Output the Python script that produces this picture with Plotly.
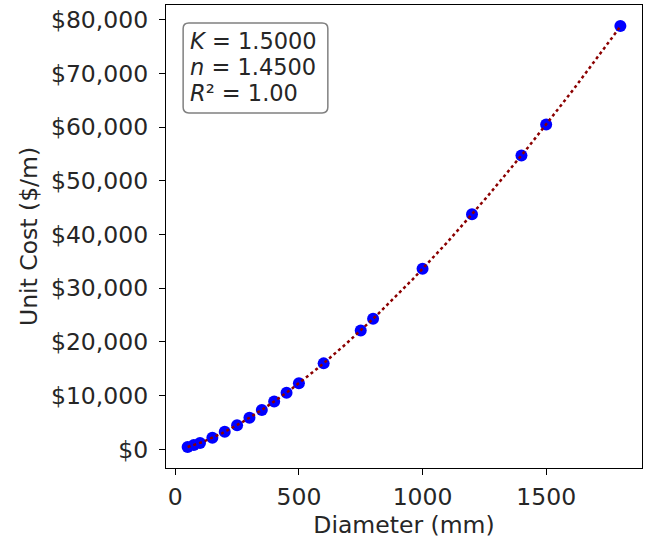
import numpy as np
import plotly.graph_objects as go

# Pipe diameter (mm) and unit cost ($/m)
diameter_mm = [50, 75, 100, 150, 200, 250, 300, 350, 400, 450, 500,
               600, 750, 800, 1000, 1200, 1400, 1500, 1800]
unit_cost = [440, 790, 1190, 2150, 3260, 4500, 5860, 7330, 8900, 10550, 12300,
             16000, 22100, 24300, 33600, 43750, 54700, 60450, 78800]

# Power-law fit: cost = K * D^n
K_fit = 1.5
n_fit = 1.45
r2_fit = 1.00

x_ticks = [0, 500, 1000, 1500]
y_ticks = [0, 10000, 20000, 30000, 40000, 50000, 60000, 70000, 80000]
y_tick_labels = [f"${v:,}" for v in y_ticks]

FONT = "DejaVu Sans"
TEXT = "#262626"
FS = 23.5

d_fit = np.linspace(min(diameter_mm), max(diameter_mm), 300)
c_fit = K_fit * d_fit ** n_fit

fig = go.Figure()
fig.add_trace(go.Scatter(
    x=diameter_mm, y=unit_cost, mode="markers",
    marker=dict(color="#0000ff", size=12, line=dict(width=0)),
    showlegend=False, hoverinfo="x+y"))
fig.add_trace(go.Scatter(
    x=d_fit, y=c_fit, mode="lines",
    line=dict(color="#8b0000", width=2.5, dash="dot"),
    showlegend=False, hoverinfo="skip"))

span_x = max(diameter_mm) - min(diameter_mm)
span_y = max(unit_cost) - min(unit_cost)
x_range = [min(diameter_mm) - 0.05 * span_x, max(diameter_mm) + 0.05 * span_x]
y_range = [min(unit_cost) - 0.05 * span_y, max(unit_cost) + 0.05 * span_y]

axis_common = dict(
    showgrid=False, zeroline=False, showline=True, mirror=True,
    linecolor="black", linewidth=1.3, ticks="outside", ticklen=6,
    tickwidth=1.2, tickcolor="black",
    tickfont=dict(family=FONT, size=FS, color=TEXT),
)

fig.update_layout(
    width=647, height=548,
    margin=dict(l=166, r=5, t=5, b=80),
    paper_bgcolor="white", plot_bgcolor="white",
    font=dict(family=FONT, color=TEXT),
    xaxis=dict(range=x_range, tickvals=x_ticks, ticklabelstandoff=2,
               title=dict(text="Diameter (mm)", font=dict(family=FONT, size=FS, color=TEXT),
                          standoff=6),
               **axis_common),
    yaxis=dict(range=y_range, tickmode="array", tickvals=y_ticks, ticktext=y_tick_labels,
               ticklabelstandoff=6,
               title=dict(text="Unit Cost ($/m)", font=dict(family=FONT, size=FS, color=TEXT),
                          standoff=6),
               **axis_common),
)

# Rounded stats box in the upper-left corner of the axes
x0, x1, y0, y1 = 0.036, 0.340, 0.767, 0.961
rx, ry = 0.012, 0.012
path = (f"M {x0+rx},{y0} L {x1-rx},{y0} Q {x1},{y0} {x1},{y0+ry} "
        f"L {x1},{y1-ry} Q {x1},{y1} {x1-rx},{y1} "
        f"L {x0+rx},{y1} Q {x0},{y1} {x0},{y1-ry} "
        f"L {x0},{y0+ry} Q {x0},{y0} {x0+rx},{y0} Z")
fig.add_shape(type="path", path=path, xref="paper", yref="paper",
              line=dict(color="#808080", width=1.5), fillcolor="white", layer="above")

stat_lines = [
    f"<i>K</i> = {K_fit:.4f}",
    f"<i>n</i> = {n_fit:.4f}",
    f"<i>R</i>² = {r2_fit:.2f}",
]
for i, line in enumerate(stat_lines):
    fig.add_annotation(
        xref="paper", yref="paper", x=0.046, y=0.922 - i * 0.056,
        xanchor="left", yanchor="middle", text=line, align="left", showarrow=False,
        font=dict(family=FONT, size=22.5, color=TEXT))

fig.write_html("out.html")
